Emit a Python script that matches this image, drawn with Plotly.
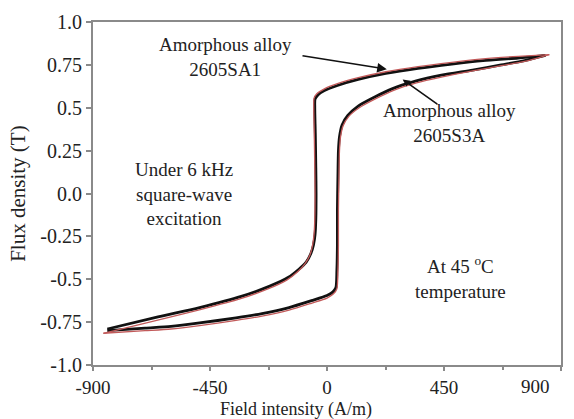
import plotly.graph_objects as go

# ---- data (H in A/m, B in T) ----
# black loop (measured)
H_up_k = [840, 735, 600, 480, 350, 226, 120, 40, -10, -35, -46, -47, -45, -43, -42, -43, -46, -52, -62, -80, -107, -150, -220, -330, -490, -650, -845]
B_up_k = [0.805, 0.79, 0.775, 0.755, 0.73, 0.70, 0.665, 0.63, 0.60, 0.575, 0.55, 0.50, 0.35, 0.15, 0.0, -0.15, -0.24, -0.30, -0.35, -0.40, -0.44, -0.49, -0.54, -0.60, -0.665, -0.72, -0.79]
H_lo_k = [-845, -700, -600, -490, -350, -250, -146, -60, 0, 22, 34, 38, 40, 40, 42, 44, 48, 58, 80, 120, 180, 250, 340, 440, 560, 670, 760, 840]
B_lo_k = [-0.80, -0.785, -0.775, -0.755, -0.725, -0.70, -0.665, -0.625, -0.595, -0.575, -0.55, -0.45, -0.30, -0.10, 0.10, 0.25, 0.33, 0.40, 0.455, 0.51, 0.56, 0.61, 0.655, 0.69, 0.72, 0.75, 0.775, 0.805]

# red loop
H_up_r = [855, 735, 600, 480, 350, 226, 120, 40, -10, -40, -50, -51, -49, -47, -46, -47, -50, -56, -66, -85, -112, -155, -225, -335, -495, -655, -860]
B_up_r = [0.81, 0.80, 0.785, 0.765, 0.74, 0.71, 0.675, 0.64, 0.61, 0.58, 0.555, 0.50, 0.35, 0.15, 0.0, -0.15, -0.24, -0.305, -0.36, -0.41, -0.455, -0.505, -0.555, -0.615, -0.68, -0.74, -0.815]
H_lo_r = [-860, -700, -600, -490, -350, -250, -146, -60, 0, 25, 38, 42, 44, 44, 46, 48, 52, 62, 84, 124, 184, 254, 344, 444, 560, 670, 760, 855]
B_lo_r = [-0.815, -0.80, -0.79, -0.77, -0.74, -0.715, -0.68, -0.64, -0.61, -0.585, -0.555, -0.45, -0.30, -0.10, 0.10, 0.25, 0.33, 0.395, 0.45, 0.50, 0.55, 0.60, 0.645, 0.68, 0.715, 0.745, 0.77, 0.81]

x_ticks = [-900, -450, 0, 450, 900]
x_ticktext = ["-900", "-450", "0", "450", "900"]
x_minor = [-675, -225, 225, 675]
y_ticks = [1.0, 0.75, 0.5, 0.25, 0.0, -0.25, -0.5, -0.75, -1.0]
y_ticktext = ["1.0", "0.75", "0.5", "0.25", "0.0", "-0.25", "-0.5", "-0.75", "-1.0"]

FONT = "Liberation Serif"
TXT = "#222222"
AX = "#8a8a8a"

fig = go.Figure()
for H, B in [(H_up_k, B_up_k), (H_lo_k, B_lo_k)]:
    fig.add_trace(go.Scatter(x=H, y=B, mode="lines",
                             line=dict(color="#111111", width=2.8, shape="spline", smoothing=0.7),
                             showlegend=False, hoverinfo="skip"))
for H, B in [(H_up_r, B_up_r), (H_lo_r, B_lo_r)]:
    fig.add_trace(go.Scatter(x=H, y=B, mode="lines",
                             line=dict(color="#c25a5a", width=1.3, shape="spline", smoothing=0.7),
                             showlegend=False, hoverinfo="skip"))

def ann(text, x, y, size=19, **kw):
    d = dict(text=text, x=x, y=y, xref="x", yref="y", showarrow=False,
             font=dict(family=FONT, size=size, color=TXT), align="center")
    d.update(kw)
    fig.add_annotation(**d)

ann("Amorphous alloy<br>2605SA1", -391, 0.795)
ann("Amorphous alloy<br>2605S3A", 470, 0.41)
ann("Under 6 kHz<br>square-wave<br>excitation", -550, 0.0)
ann("At 45 <sup>o</sup>C<br>temperature", 513, -0.49)

# arrows
fig.add_annotation(x=230, y=0.725, ax=-100, ay=0.805, xref="x", yref="y", axref="x", ayref="y",
                   text="", showarrow=True, arrowhead=2, arrowsize=1.2, arrowwidth=1.6, arrowcolor="#111111")
fig.add_annotation(x=291, y=0.665, ax=430, ay=0.515, xref="x", yref="y", axref="x", ayref="y",
                   text="", showarrow=True, arrowhead=2, arrowsize=0.9, arrowwidth=1.6, arrowcolor="#111111")

# last x tick label (would be cut at the page edge), drawn slightly inward as in the reference
fig.add_annotation(text=x_ticktext[-1], x=(554 - 93) / 470, y=(365 - 387) / 351,
                   xref="paper", yref="paper", showarrow=False, yanchor="middle",
                   font=dict(family=FONT, size=19, color=TXT))
x_ticktext_drawn = x_ticktext[:-1] + [""]

# axis titles
fig.add_annotation(text="Field intensity (A/m)", x=(297 - 93) / 470, y=(365 - 411) / 351,
                   xref="paper", yref="paper", showarrow=False, yanchor="middle",
                   font=dict(family=FONT, size=18, color=TXT))
fig.add_annotation(text="Flux density (T)", x=(17 - 93) / 470, y=0.5, textangle=-90,
                   xref="paper", yref="paper", showarrow=False, xanchor="center", yanchor="middle",
                   font=dict(family=FONT, size=21, color=TXT))

fig.update_layout(
    width=574, height=419,
    margin=dict(l=93, r=11, t=14, b=54),
    paper_bgcolor="white", plot_bgcolor="white",
    font=dict(family=FONT, size=20, color=TXT),
    xaxis=dict(range=[-900, 900], tickvals=x_ticks, ticktext=x_ticktext_drawn,
               showgrid=False, zeroline=False, showline=True, linecolor=AX, linewidth=2,
               mirror=True, ticks="outside", ticklen=4, tickcolor=AX, tickwidth=2,
               ticklabelstandoff=0,
               minor=dict(tickvals=x_minor, ticks="outside", ticklen=3, tickcolor=AX, tickwidth=2),
               tickfont=dict(family=FONT, size=19, color=TXT)),
    yaxis=dict(range=[-1.0, 1.0], tickvals=y_ticks, ticktext=y_ticktext,
               showgrid=False, zeroline=False, showline=True, linecolor=AX, linewidth=2,
               mirror=True, ticks="outside", ticklen=5, tickcolor=AX, tickwidth=2,
               tickfont=dict(family=FONT, size=20, color=TXT)),
)

fig.write_html("out.html")
